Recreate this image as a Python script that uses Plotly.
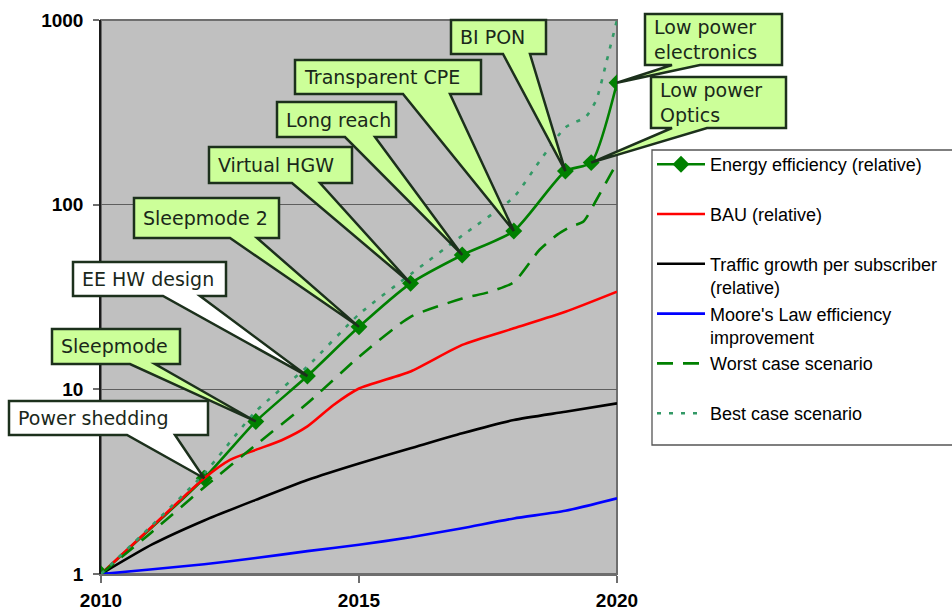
import math
import plotly.graph_objects as go

# ---------------- data ----------------
ee_years = [2010, 2012, 2013, 2014, 2015, 2016, 2017, 2018, 2019, 2019.5, 2020]
ee_values = [1, 3.3, 6.7, 11.8, 21.8, 37.5, 53.4, 72, 152, 169, 457]

bau_years = [2010, 2011, 2012, 2012.5, 2013, 2013.5, 2014, 2014.5, 2015, 2016, 2017, 2018, 2019, 2020]
bau_values = [1, 1.82, 3.3, 4.15, 4.7, 5.3, 6.3, 8.2, 10.1, 12.5, 17.4, 21.4, 26.3, 33.8]

traffic_years = [2010, 2011, 2012, 2013, 2014, 2015, 2016, 2017, 2018, 2019, 2020]
traffic_values = [1, 1.45, 1.95, 2.52, 3.23, 3.97, 4.79, 5.78, 6.82, 7.56, 8.4]

moore_years = [2010, 2011, 2012, 2013, 2014, 2015, 2016, 2017, 2018, 2019, 2020]
moore_values = [1, 1.06, 1.13, 1.22, 1.33, 1.44, 1.58, 1.77, 2.0, 2.2, 2.57]

worst_years = [2010, 2011, 2012, 2013, 2014, 2015, 2016, 2017, 2017.5, 2018,
               2018.5, 2018.85, 2019.1, 2019.35, 2019.6, 2019.9, 2020]
worst_values = [1, 1.7, 2.95, 5.0, 8.4, 15, 24.7, 31, 33.5, 38,
                57, 69, 76, 81, 106, 150, 168]

best_years = [2010, 2011, 2012, 2013, 2014, 2015, 2016, 2017, 2018, 2018.5,
              2019, 2019.4, 2019.6, 2019.8, 2020]
best_values = [1, 1.85, 3.5, 7.6, 13.3, 25.5, 42, 68, 110, 172,
               262, 300, 370, 600, 1000]

series_names = [
    "Energy efficiency (relative)",
    "BAU (relative)",
    "Traffic growth per subscriber<br>(relative)",
    "Moore's Law efficiency<br>improvement",
    "Worst case scenario",
    "Best case scenario",
]

x_tick_values = [2010, 2015, 2020]
x_tick_labels = ["2010", "2015", "2020"]
y_tick_values = [1, 10, 100, 1000]
y_tick_labels = ["1", "10", "100", "1000"]

# callout text and the energy-efficiency point each one points at
callout_labels = ["Power shedding", "Sleepmode", "EE HW design", "Sleepmode 2",
                  "Virtual HGW", "Long reach", "Transparent CPE", "BI PON",
                  "Low power<br>Optics", "Low power<br>electronics"]
callout_targets = [1, 2, 3, 4, 5, 6, 7, 8, 9, 10]

# ---------------- geometry / style ----------------
W, H = 952, 611
PL, PT, PR, PB = 101, 20, 617, 574          # plot area in pixels
X_RANGE = [2010, 2020]
Y_LOG_RANGE = [0, 3]

GREEN = "#008000"
TEAL = "#339966"
CALLOUT_GREEN = "#ccff99"
OUTLINE = "#1c301c"

# box (x0, top, x1, bottom) in pixels, wedge base (left, right) on box bottom, fill
callout_boxes = [
    ((9, 401, 208, 435), (127, 175), "white"),
    ((52, 329, 180, 364), (130, 155), CALLOUT_GREEN),
    ((73, 262, 226, 296), (163, 200), "white"),
    ((134, 198, 279, 238), (230, 257), CALLOUT_GREEN),
    ((209, 147, 352, 183), (292, 320), CALLOUT_GREEN),
    ((277, 102, 396, 137), (345, 375), CALLOUT_GREEN),
    ((295, 60, 481, 94), (403, 450), CALLOUT_GREEN),
    ((451, 20, 546, 54), (503, 530), CALLOUT_GREEN),
    ((651, 77, 786, 128), (672, 707), CALLOUT_GREEN),
    ((645, 14, 782, 65), (672, 700), CALLOUT_GREEN),
]

# legend frame: left, top, bottom in pixels (runs past the right edge of the page)
LEGEND_BOX = (652, 150, 445)


def px_to_paper(px, py):
    return (px - PL) / (PR - PL), (PB - py) / (PB - PT)


def data_to_paper(year, value):
    fx = (year - X_RANGE[0]) / (X_RANGE[1] - X_RANGE[0])
    fy = (math.log10(value) - Y_LOG_RANGE[0]) / (Y_LOG_RANGE[1] - Y_LOG_RANGE[0])
    return fx, fy


fig = go.Figure()

line_w = 2.6
fig.add_trace(go.Scatter(
    x=ee_years, y=ee_values, name=series_names[0], mode="lines+markers",
    line=dict(color=GREEN, width=line_w, shape="spline", smoothing=0.6),
    marker=dict(symbol="diamond", size=13, color=GREEN),
))
fig.add_trace(go.Scatter(
    x=bau_years, y=bau_values, name=series_names[1], mode="lines",
    line=dict(color="#ff0000", width=line_w, shape="spline", smoothing=0.6),
))
fig.add_trace(go.Scatter(
    x=traffic_years, y=traffic_values, name=series_names[2], mode="lines",
    line=dict(color="#000000", width=line_w, shape="spline", smoothing=0.6),
))
fig.add_trace(go.Scatter(
    x=moore_years, y=moore_values, name=series_names[3], mode="lines",
    line=dict(color="#0000ff", width=line_w, shape="spline", smoothing=0.6),
))
fig.add_trace(go.Scatter(
    x=worst_years, y=worst_values, name=series_names[4], mode="lines",
    line=dict(color=GREEN, width=line_w, dash="16px,10px", shape="spline", smoothing=0.6),
))
fig.add_trace(go.Scatter(
    x=best_years, y=best_values, name=series_names[5], mode="lines",
    line=dict(color=TEAL, width=line_w, dash="4px,8px", shape="spline", smoothing=0.6),
))

# uniform two-line legend entries
for tr in fig.data:
    if "<br>" not in tr.name:
        tr.name = tr.name + "<br> "

shapes = []
annotations = []

# plot frame (grey), drawn between grid and traces
shapes.append(dict(type="rect", xref="paper", yref="paper", x0=0, x1=1, y0=0, y1=1,
                   line=dict(color="#6e6e6e", width=2), layer="between"))

# legend frame
lx0, ly0 = px_to_paper(LEGEND_BOX[0], LEGEND_BOX[1])
lx1, ly1 = px_to_paper(W + 20, LEGEND_BOX[2])
shapes.append(dict(type="rect", xref="paper", yref="paper", x0=lx0, x1=lx1, y0=ly1, y1=ly0,
                   line=dict(color="#555555", width=1.3), fillcolor="white", layer="above"))

for label, tgt, (box, base, fill) in zip(callout_labels, callout_targets, callout_boxes):
    x0, yt, x1, yb = box
    tx, ty = data_to_paper(ee_years[tgt], ee_values[tgt])
    pts = [px_to_paper(x0, yt), px_to_paper(x1, yt), px_to_paper(x1, yb),
           px_to_paper(base[1], yb), (tx, ty), px_to_paper(base[0], yb),
           px_to_paper(x0, yb)]
    path = "M " + " L ".join(f"{a:.5f},{b:.5f}" for a, b in pts) + " Z"
    shapes.append(dict(type="path", xref="paper", yref="paper", path=path,
                       fillcolor=fill, line=dict(color=OUTLINE, width=2.5), layer="above"))
    ax, ay = px_to_paper(x0 + 7, (yt + yb) / 2)
    annotations.append(dict(x=ax, y=ay, xref="paper", yref="paper", text=label,
                            showarrow=False, xanchor="left", yanchor="middle", align="left",
                            font=dict(family="DejaVu Sans", size=19, color="#1a281a")))

fig.update_layout(
    width=W, height=H,
    margin=dict(l=PL, r=W - PR, t=PT, b=H - PB, pad=0, autoexpand=False),
    paper_bgcolor="white",
    plot_bgcolor="#c0c0c0",
    font=dict(family="Liberation Sans", color="black"),
    showlegend=True,
    legend=dict(
        x=(652 - PL) / (PR - PL), y=(PB - 146) / (PB - PT),
        xanchor="left", yanchor="top",
        bgcolor="rgba(0,0,0,0)", borderwidth=0,
        font=dict(family="Liberation Sans", size=18, color="black"),
        valign="top", itemwidth=48, tracegroupgap=0,
    ),
    shapes=shapes,
    annotations=annotations,
)

fig.update_xaxes(
    range=X_RANGE, tickvals=x_tick_values, ticktext=x_tick_labels,
    showgrid=False, zeroline=False, showline=True, linecolor="#6e6e6e", linewidth=2,
    ticks="outside", ticklen=7, tickcolor="#6e6e6e", tickwidth=1.5,
    tickfont=dict(family="Liberation Sans", size=19, color="black", weight="bold"),
    ticklabelstandoff=1,
)
fig.update_yaxes(
    type="log", range=Y_LOG_RANGE, tickvals=y_tick_values, ticktext=y_tick_labels,
    showgrid=True, gridcolor="#5e5e5e", gridwidth=1.4, zeroline=False,
    showline=True, linecolor="#1a1a1a", linewidth=1.5,
    ticks="outside", ticklen=6, tickcolor="#6e6e6e", tickwidth=1.5,
    tickfont=dict(family="Liberation Sans", size=19, color="black", weight="bold"),
    ticklabelstandoff=6,
)

fig.write_html("out.html")
